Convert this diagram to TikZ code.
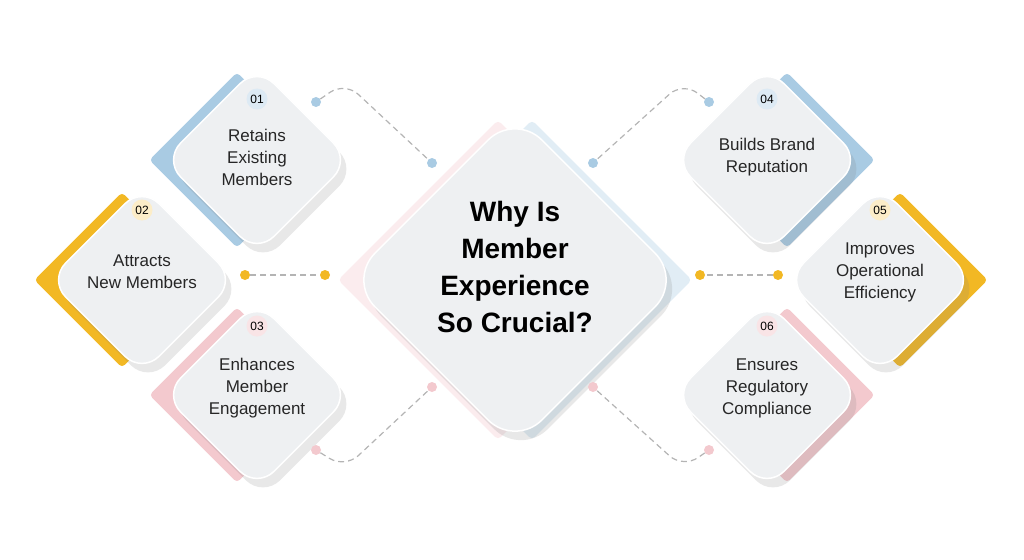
\documentclass[tikz,border=0pt]{standalone}
\usepackage{fontspec}
\setmainfont{Liberation Sans}
\usetikzlibrary{shadows}
\definecolor{tblue}{HTML}{A9CBE3}
\definecolor{tyellow}{HTML}{F2B824}
\definecolor{tpink}{HTML}{F3C9CE}
\definecolor{tface}{HTML}{EEF0F2}
\definecolor{tdash}{HTML}{B4B4B4}
\tikzset{
  card/.style={draw=white, line width=1.5pt, fill=tface, rotate=45, minimum size=#1,
    rounded corners=24pt, drop shadow={opacity=0.18, shadow xshift=6pt, shadow yshift=-9pt}},
  accent/.style={fill=#1, rotate=45, minimum size=124pt, rounded corners=4pt},
  label/.style={align=center, font=\fontsize{17}{22}\selectfont, text=black!85},
  badge/.style={circle, fill=#1, minimum size=21pt, inner sep=0pt, font=\fontsize{12}{12}\selectfont},
  link/.style={draw=tdash, dash pattern=on 6pt off 4pt, line width=1.2pt, rounded corners=18pt},
  dot/.style={circle, fill=#1, minimum size=10pt, inner sep=0pt}
}
\begin{document}
\begin{tikzpicture}[x=1pt,y=-1pt]
  \useasboundingbox (0,0) rectangle (1024,559);
  % accents behind the cards
  \node[accent=tblue]   at (237,160) {};
  \node[accent=tyellow] at (122,280) {};
  \node[accent=tpink]   at (237,395) {};
  \node[accent=tblue]   at (787,160) {};
  \node[accent=tyellow] at (900,280) {};
  \node[accent=tpink]   at (787,395) {};
  \node[accent=tpink!35, minimum size=226pt] at (498,280) {};
  \node[accent=tblue!35, minimum size=226pt] at (532,280) {};
  % cards
  \node[card=132pt] (d1) at (257,160) {};
  \node[card=132pt] (d2) at (142,280) {};
  \node[card=132pt] (d3) at (257,395) {};
  \node[card=132pt] (d4) at (767,160) {};
  \node[card=132pt] (d5) at (880,280) {};
  \node[card=132pt] (d6) at (767,395) {};
  \node[card=236pt, rounded corners=38pt] (c) at (515,280) {};
  % texts
  \node[label] at (257,157) {Retains\\Existing\\Members};
  \node[label] at (142,272) {Attracts\\New Members};
  \node[label] at (257,388) {Enhances\\Member\\Engagement};
  \node[label] at (767,157) {Builds Brand\\Reputation};
  \node[label] at (880,272) {Improves\\Operational\\Efficiency};
  \node[label] at (767,388) {Ensures\\Regulatory\\Compliance};
  \node[align=center, font=\bfseries\fontsize{28}{37}\selectfont] at (515,267)
    {Why Is\\Member\\Experience\\So Crucial?};
  \node[badge=tblue!40]   at (257,99)  {01};
  \node[badge=tyellow!25] at (142,210) {02};
  \node[badge=tpink!50]   at (257,326) {03};
  \node[badge=tblue!40]   at (767,99)  {04};
  \node[badge=tyellow!25] at (880,210) {05};
  \node[badge=tpink!50]   at (767,326) {06};
  % connectors
  \node[dot=tblue]   (a1) at (316,102) {};
  \node[dot=tblue]   (b1) at (432,163) {};
  \node[dot=tyellow] (a2) at (245,275) {};
  \node[dot=tyellow] (b2) at (325,275) {};
  \node[dot=tpink]   (a3) at (316,450) {};
  \node[dot=tpink]   (b3) at (432,387) {};
  \node[dot=tblue]   (a4) at (709,102) {};
  \node[dot=tblue]   (b4) at (593,163) {};
  \node[dot=tyellow] (a5) at (778,275) {};
  \node[dot=tyellow] (b5) at (700,275) {};
  \node[dot=tpink]   (a6) at (709,450) {};
  \node[dot=tpink]   (b6) at (593,387) {};
  \coordinate (k1) at (345,82);
  \coordinate (k3) at (345,468);
  \coordinate (k4) at (683,82);
  \coordinate (k6) at (683,468);
  \path[link] (a1) -- (k1) -- (b1);
  \path[link] (a2) -- (b2);
  \path[link] (a3) -- (k3) -- (b3);
  \path[link] (a4) -- (k4) -- (b4);
  \path[link] (a5) -- (b5);
  \path[link] (a6) -- (k6) -- (b6);
\end{tikzpicture}
\end{document}
